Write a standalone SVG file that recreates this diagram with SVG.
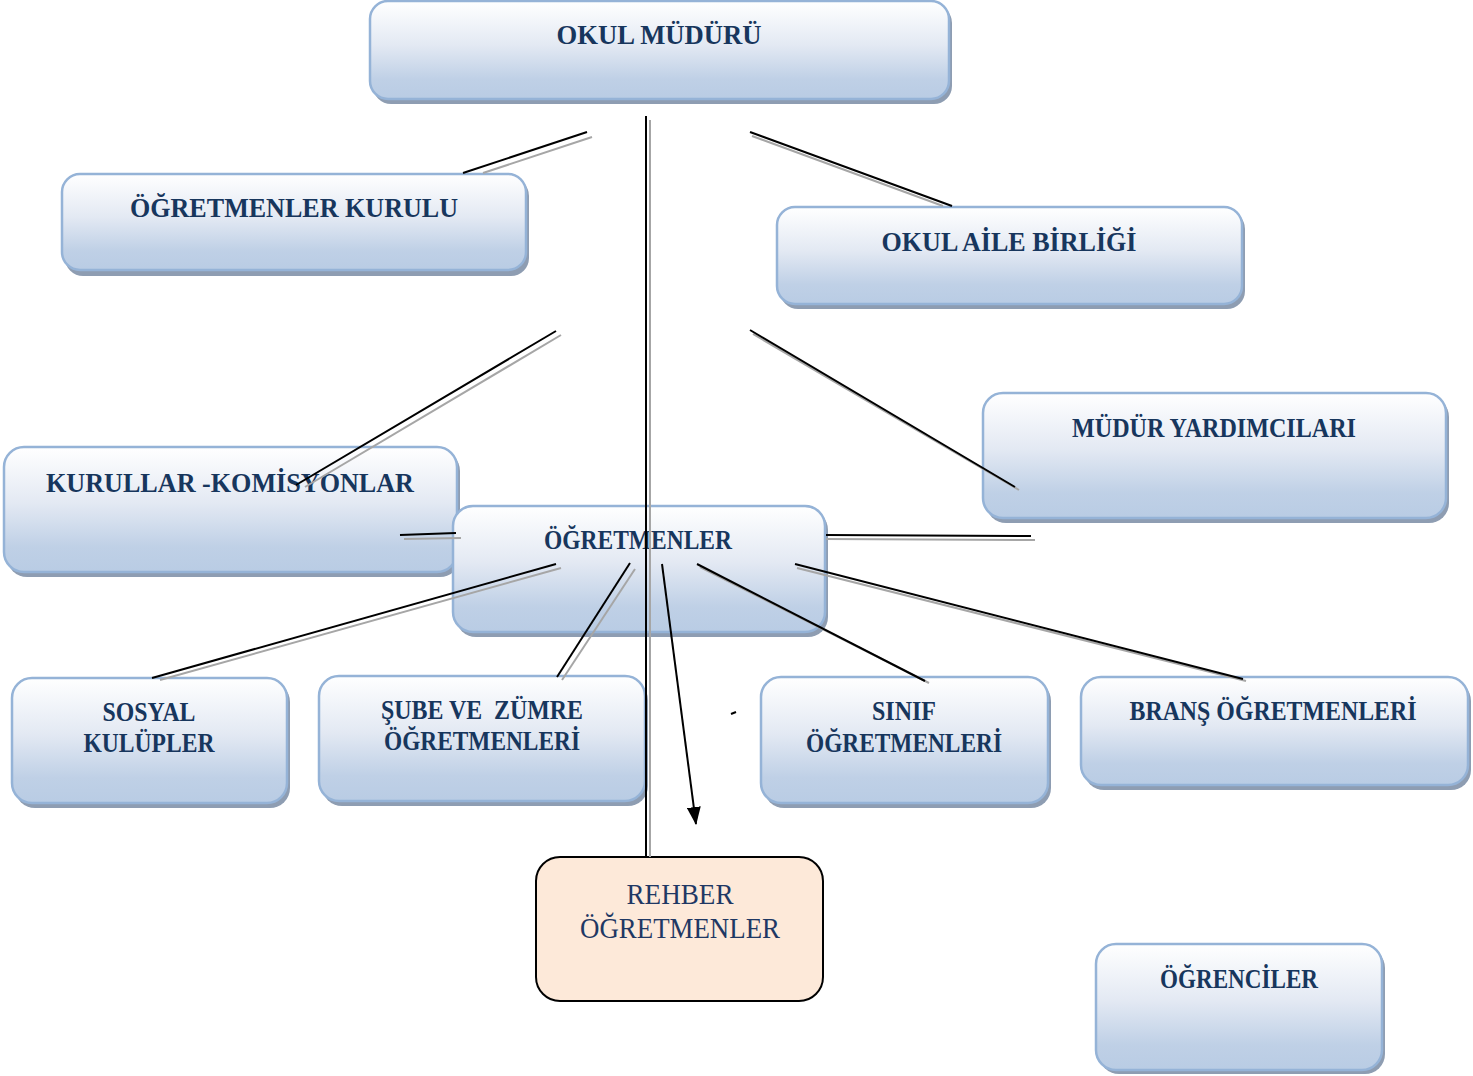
<svg xmlns="http://www.w3.org/2000/svg" width="1473" height="1076" viewBox="0 0 1473 1076">
<defs>
<linearGradient id="g" x1="0" y1="0" x2="0" y2="1">
<stop offset="0" stop-color="#ffffff"/>
<stop offset="0.45" stop-color="#e3e9f3"/>
<stop offset="0.8" stop-color="#bfd0e6"/>
<stop offset="1" stop-color="#b9cce4"/>
</linearGradient>
<marker id="arr" viewBox="0 0 18 14" refX="17" refY="7" markerWidth="18" markerHeight="14" markerUnits="userSpaceOnUse" orient="auto">
<path d="M0,0 L18,7 L0,14 z" fill="#000"/>
</marker>
</defs>
<style>
.sh{fill:#8e9db2}
.bx{fill:url(#g);stroke:#95b3d7;stroke-width:2.5}
.t{font-family:"Liberation Serif","DejaVu Serif",serif;font-weight:bold;font-size:28px;fill:#17365d;text-anchor:middle}
.tr{font-family:"Liberation Serif","DejaVu Serif",serif;font-size:29px;fill:#1f3864;text-anchor:middle}
.k{stroke:#000;stroke-width:2;fill:none}
.s{stroke:#a6a6a6;stroke-width:2;fill:none}
</style>
<rect width="1473" height="1076" fill="#fff"/>

<g id="okul-muduru">
<rect class="sh" x="373" y="5" width="579" height="99" rx="18"/>
<rect class="bx" x="370" y="1" width="579" height="98" rx="18"/>
<text class="t" x="659" y="44" font-size="30" textLength="205" lengthAdjust="spacingAndGlyphs">OKUL MÜDÜRÜ</text>
</g>

<g id="ogretmenler-kurulu">
<rect class="sh" x="65" y="178" width="464" height="98" rx="18"/>
<rect class="bx" x="62" y="174" width="464" height="96" rx="18"/>
<text class="t" x="294" y="217" textLength="328" lengthAdjust="spacingAndGlyphs">ÖĞRETMENLER KURULU</text>
</g>

<g id="okul-aile-birligi">
<rect class="sh" x="780" y="211" width="465" height="98" rx="18"/>
<rect class="bx" x="777" y="207" width="465" height="97" rx="18"/>
<text class="t" x="1009" y="251" textLength="255" lengthAdjust="spacingAndGlyphs">OKUL AİLE BİRLİĞİ</text>
</g>

<g id="mudur-yardimcilari">
<rect class="sh" x="986" y="397" width="463" height="126" rx="20"/>
<rect class="bx" x="983" y="393" width="463" height="125" rx="20"/>
<text class="t" x="1214" y="437" textLength="284" lengthAdjust="spacingAndGlyphs">MÜDÜR YARDIMCILARI</text>
</g>

<g id="kurullar-komisyonlar">
<rect class="sh" x="7" y="451" width="453" height="126" rx="20"/>
<rect class="bx" x="4" y="447" width="453" height="125" rx="20"/>
<text class="t" x="230" y="492" textLength="368" lengthAdjust="spacingAndGlyphs">KURULLAR -KOMİSYONLAR</text>
</g>

<g id="ogretmenler">
<rect class="sh" x="456" y="510" width="372" height="127" rx="20"/>
<rect class="bx" x="453" y="506" width="372" height="126" rx="20"/>
<text class="t" x="638" y="549" textLength="188" lengthAdjust="spacingAndGlyphs">ÖĞRETMENLER</text>
</g>

<g id="sosyal-kulupler">
<rect class="sh" x="15" y="682" width="275" height="126" rx="20"/>
<rect class="bx" x="12" y="678" width="275" height="125" rx="20"/>
<text class="t" x="149" y="721" textLength="93" lengthAdjust="spacingAndGlyphs">SOSYAL</text>
<text class="t" x="149" y="752" textLength="131" lengthAdjust="spacingAndGlyphs">KULÜPLER</text>
</g>

<g id="sube-zumre">
<rect class="sh" x="322" y="680" width="326" height="126" rx="20"/>
<rect class="bx" x="319" y="676" width="326" height="125" rx="20"/>
<text class="t" x="482" y="719" textLength="202" lengthAdjust="spacingAndGlyphs" xml:space="preserve">ŞUBE VE  ZÜMRE</text>
<text class="t" x="482" y="750" textLength="196" lengthAdjust="spacingAndGlyphs">ÖĞRETMENLERİ</text>
</g>

<g id="sinif-ogretmenleri">
<rect class="sh" x="764" y="681" width="287" height="127" rx="20"/>
<rect class="bx" x="761" y="677" width="287" height="126" rx="20"/>
<text class="t" x="904" y="720" textLength="64" lengthAdjust="spacingAndGlyphs">SINIF</text>
<text class="t" x="904" y="752" textLength="196" lengthAdjust="spacingAndGlyphs">ÖĞRETMENLERİ</text>
</g>

<g id="brans-ogretmenleri">
<rect class="sh" x="1084" y="681" width="387" height="109" rx="20"/>
<rect class="bx" x="1081" y="677" width="387" height="108" rx="20"/>
<text class="t" x="1273" y="720" textLength="287" lengthAdjust="spacingAndGlyphs">BRANŞ ÖĞRETMENLERİ</text>
</g>

<g id="ogrenciler">
<rect class="sh" x="1099" y="948" width="286" height="126" rx="20"/>
<rect class="bx" x="1096" y="944" width="286" height="126" rx="20"/>
<text class="t" x="1239" y="988" textLength="158" lengthAdjust="spacingAndGlyphs">ÖĞRENCİLER</text>
</g>

<g id="rehber-ogretmenler">
<rect x="536" y="857" width="287" height="144" rx="24" fill="#fde9d9" stroke="#000" stroke-width="2"/>
<text class="tr" x="680" y="904" textLength="107" lengthAdjust="spacingAndGlyphs">REHBER</text>
<text class="tr" x="680" y="938" textLength="200" lengthAdjust="spacingAndGlyphs">ÖĞRETMENLER</text>
</g>

<g id="connectors">
<line class="s" x1="592" y1="137" x2="483" y2="173"/>
<line class="k" x1="587" y1="132" x2="463" y2="173"/>

<line class="s" x1="650" y1="120" x2="650" y2="857"/>
<line class="k" x1="646" y1="116" x2="646" y2="857"/>

<line class="s" x1="752" y1="136" x2="943" y2="206"/>
<line class="k" x1="750" y1="132" x2="952" y2="206"/>

<line class="s" x1="561" y1="335" x2="305" y2="487"/>
<line class="k" x1="556" y1="331" x2="296" y2="485"/>

<line class="s" x1="753" y1="334" x2="1019" y2="490"/>
<line class="k" x1="750" y1="330" x2="1015" y2="487"/>

<line class="s" x1="404" y1="539" x2="461" y2="538"/>
<line class="k" x1="400" y1="535" x2="456" y2="533"/>

<line class="s" x1="826" y1="539" x2="1035" y2="540"/>
<line class="k" x1="826" y1="535" x2="1031" y2="536"/>

<line class="s" x1="561" y1="568" x2="160" y2="680"/>
<line class="k" x1="556" y1="564" x2="152" y2="678"/>

<line class="s" x1="635" y1="569" x2="562" y2="680"/>
<line class="k" x1="630" y1="563" x2="557" y2="677"/>

<line class="s" x1="700" y1="567" x2="929" y2="683"/>
<line class="k" x1="697" y1="564" x2="925" y2="681"/>

<line class="s" x1="797" y1="568" x2="1246" y2="681"/>
<line class="k" x1="795" y1="564" x2="1243" y2="679"/>

<line class="k" x1="662" y1="564" x2="696" y2="824" marker-end="url(#arr)"/>

<line class="k" x1="731" y1="714" x2="736" y2="712" stroke-width="1.5"/>
</g>
</svg>
